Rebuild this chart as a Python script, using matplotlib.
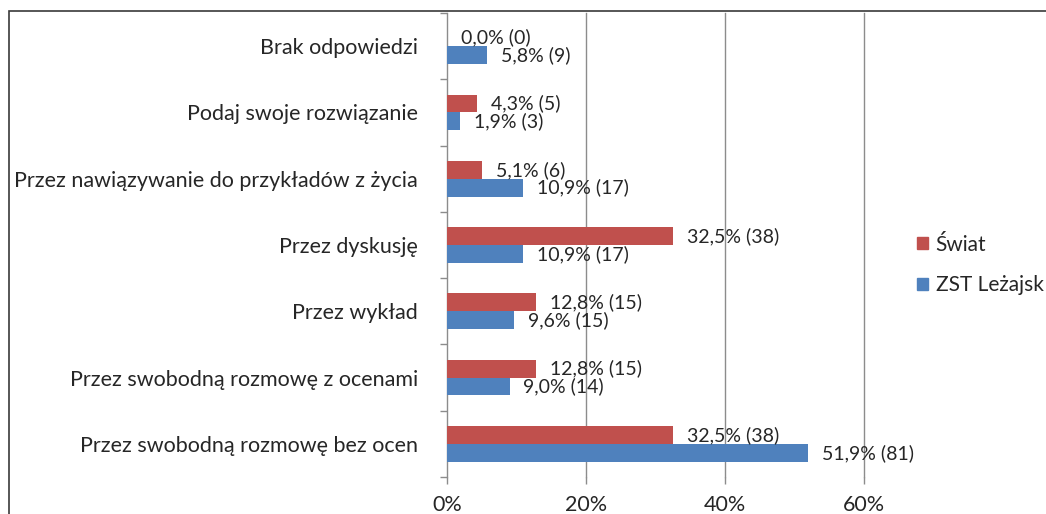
import matplotlib
matplotlib.use("Agg")
import matplotlib.pyplot as plt
from matplotlib.patches import Rectangle, Patch
import numpy as np

plt.rcParams['font.family'] = ['Lato', 'DejaVu Sans']

categories = [
    "Brak odpowiedzi",
    "Podaj swoje rozwiązanie",
    "Przez nawiązywanie do przykładów z życia",
    "Przez dyskusję",
    "Przez wykład",
    "Przez swobodną rozmowę z ocenami",
    "Przez swobodną rozmowę bez ocen",
]
swiat_pct = [0.0, 4.3, 5.1, 32.5, 12.8, 12.8, 32.5]
swiat_n = [0, 5, 6, 38, 15, 15, 38]
zst_pct = [5.8, 1.9, 10.9, 10.9, 9.6, 9.0, 51.9]
zst_n = [9, 3, 17, 17, 15, 14, 81]
series_names = ["Świat", "ZST Leżajsk"]
xticks = [0, 20, 40, 60]
xtick_labels = ["0%", "20%", "40%", "60%"]

RED = "#C0504D"
BLUE = "#4F81BD"
TXT = "#262626"
GRID = "#8c8c8c"

W, H = 1046, 514
fig = plt.figure(figsize=(W / 100, H / 100), dpi=100)
fig.patch.set_facecolor("white")

# outer chart frame (cropped on right/bottom)
fig.add_artist(Rectangle((9 / W, -0.2), 1.5, 1 - 11 / 514 + 0.2,
                         transform=fig.transFigure, fill=False,
                         edgecolor="#3a3a3a", linewidth=1.2))

ax = fig.add_axes([447 / W, 1 - 477 / H, (864 - 447) / W, (477 - 13) / H])

y = np.arange(len(categories))
h = 0.27
ax.barh(y - h / 2, swiat_pct, height=h, color=RED, label=series_names[0], zorder=3)
ax.barh(y + h / 2, zst_pct, height=h, color=BLUE, label=series_names[1], zorder=3)

def fmt(p, n):
    return f"{p:.1f}".replace(".", ",") + f"% ({n})"

for i in range(len(categories)):
    ax.annotate(fmt(swiat_pct[i], swiat_n[i]), (swiat_pct[i], y[i] - h / 2),
                xytext=(10, 0), textcoords="offset points", va="center", ha="left",
                fontsize=14, color=TXT, zorder=4)
    ax.annotate(fmt(zst_pct[i], zst_n[i]), (zst_pct[i], y[i] + h / 2),
                xytext=(10, 0), textcoords="offset points", va="center", ha="left",
                fontsize=14, color=TXT, zorder=4)

ax.set_xlim(0, 60)
ax.set_ylim(len(categories) - 0.5, -0.5)
ax.set_xticks(xticks)
ax.set_xticklabels(xtick_labels, fontsize=15.5, color=TXT)
ax.set_yticks(y)
ax.set_yticklabels(categories, fontsize=15.5, color=TXT)
ax.set_yticks(np.arange(-0.5, len(categories), 1), minor=True)
ax.tick_params(axis="y", which="major", length=0, pad=21)
ax.tick_params(axis="y", which="minor", length=5, color=GRID, width=1)
ax.tick_params(axis="x", length=5, color=GRID, width=1, pad=8)

for xv in xticks[1:]:
    ax.axvline(xv, color=GRID, linewidth=1, zorder=1, clip_on=False)
for s in ["top", "right", "bottom"]:
    ax.spines[s].set_visible(False)
ax.spines["left"].set_color(GRID)
ax.spines["left"].set_linewidth(1)
ax.set_facecolor("white")

handles = [Patch(color=RED), Patch(color=BLUE)]
fig.legend(handles, series_names, loc="center left",
           bbox_to_anchor=(917 / W, 1 - 265 / H), frameon=False,
           fontsize=15, handlelength=0.55, handleheight=0.55,
           handletextpad=0.35, labelspacing=1.0, borderaxespad=0, borderpad=0,
           labelcolor=TXT)

fig.savefig("out.png", dpi=100, facecolor="white")
